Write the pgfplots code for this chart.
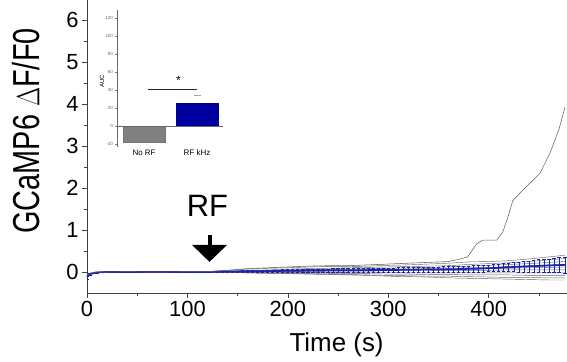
\documentclass[border=0pt]{standalone}
\usepackage{pgfplots}
\pgfplotsset{compat=1.18}
\usetikzlibrary{arrows.meta}
\usepackage{fontspec}
\setmainfont{Liberation Sans}
\definecolor{trc}{RGB}{100,100,100}
\definecolor{mblue}{RGB}{25,35,175}
\definecolor{barblue}{RGB}{0,0,160}
\definecolor{bargray}{RGB}{128,128,128}
\begin{document}
\begin{tikzpicture}
\begin{axis}[name=main, scale only axis, width=480bp, height=293bp, at={(0,0)}, anchor=south west,
 xmin=0, xmax=478, ymin=-0.5, ymax=6.48,
 axis lines=left, axis line style={-, black!75, line width=0.6bp},
 xtick={0,100,...,400}, ytick={0,...,6},
 minor xtick={50,150,...,450}, minor ytick={0.5,1.5,...,5.5},
 tick align=outside, major tick length=5bp, minor tick length=3bp,
 tick style={black!75, line width=0.6bp},
 ticklabel style={font=\fontsize{22}{24}\selectfont},
 /pgf/number format/assume math mode=true,
 xlabel={Time (s)},
 xlabel style={font=\fontsize{26}{28}\selectfont, at={(axis description cs:0.52,-0.177)}, anchor=center},
 ylabel={\scalebox{1}[1.3]{GCaMP6 $\Delta$F/F0}},
 ylabel style={font=\fontsize{29}{31}\selectfont, at={(axis description cs:-0.127,0.553)}, anchor=center},
]
% gray traces
\addplot[trc, line width=0.45bp] table {
0 -0.12
3 -0.05
8 -0.02
20 -0.01
40 0.0
60 -0.01
80 0.0
100 0.0
120 0.01
140 0.04
160 0.07
180 0.09
200 0.10
220 0.12
240 0.13
260 0.13
280 0.14
300 0.16
320 0.17
340 0.19
360 0.21
380 0.24
400 0.25
420 0.27
440 0.31
460 0.36
476 0.40
};
\addplot[trc, line width=0.45bp] table {
0 -0.15
3 -0.06
8 -0.02
20 0.0
40 0.0
60 0.0
80 -0.01
100 0.0
120 0.0
140 0.02
160 0.04
180 0.05
200 0.07
220 0.08
240 0.09
260 0.10
280 0.11
300 0.12
320 0.13
340 0.14
360 0.15
380 0.18
400 0.20
420 0.22
440 0.25
460 0.29
476 0.32
};
\addplot[trc, line width=0.45bp] table {
0 -0.10
3 -0.04
8 -0.01
20 0.0
40 0.01
60 0.0
80 0.0
100 0.01
120 0.0
140 0.01
160 0.03
180 0.04
200 0.05
220 0.06
240 0.07
260 0.07
280 0.08
300 0.09
320 0.10
340 0.11
360 0.12
380 0.14
400 0.16
420 0.18
440 0.20
460 0.23
476 0.25
};
\addplot[trc, line width=0.45bp] table {
0 -0.13
3 -0.05
8 -0.01
20 0.0
40 0.0
60 0.01
80 0.0
100 0.0
120 0.0
140 0.01
160 0.02
180 0.03
200 0.03
220 0.04
240 0.05
260 0.05
280 0.06
300 0.07
320 0.07
340 0.08
360 0.09
380 0.10
400 0.11
420 0.13
440 0.15
460 0.17
476 0.18
};
\addplot[trc, line width=0.45bp] table {
0 -0.09
3 -0.03
8 -0.01
20 0.0
40 0.0
60 0.0
80 0.01
100 0.0
120 0.0
140 0.0
160 0.01
180 0.02
200 0.02
220 0.03
240 0.03
260 0.04
280 0.04
300 0.05
320 0.05
340 0.06
360 0.06
380 0.07
400 0.08
420 0.09
440 0.10
460 0.11
476 0.12
};
\addplot[trc, line width=0.45bp] table {
0 -0.11
3 -0.04
8 -0.02
20 0.0
40 0.0
60 0.0
80 0.0
100 0.0
120 0.0
140 0.0
160 0.0
180 0.01
200 0.01
220 0.01
240 0.02
260 0.02
280 0.02
300 0.03
320 0.03
340 0.03
360 0.04
380 0.04
400 0.04
420 0.05
440 0.05
460 0.05
476 0.05
};
\addplot[trc, line width=0.45bp] table {
0 -0.14
3 -0.05
8 -0.02
20 -0.01
40 0.0
60 0.0
80 0.0
100 0.0
120 0.0
140 0.0
160 -0.01
180 0.0
200 -0.01
220 -0.01
240 -0.01
260 -0.01
280 -0.02
300 -0.01
320 -0.02
340 -0.02
360 -0.02
380 -0.02
400 -0.02
420 -0.02
440 -0.02
460 -0.02
476 -0.02
};
\addplot[trc, line width=0.45bp] table {
0 -0.12
3 -0.04
8 -0.01
20 0.0
40 0.0
60 0.0
80 0.0
100 0.0
120 0.0
140 -0.01
160 -0.01
180 -0.02
200 -0.02
220 -0.03
240 -0.03
260 -0.04
280 -0.04
300 -0.05
320 -0.05
340 -0.06
360 -0.06
380 -0.07
400 -0.07
420 -0.07
440 -0.08
460 -0.08
476 -0.08
};
\addplot[trc, line width=0.45bp] table {
0 -0.13
3 -0.05
8 -0.02
20 0.0
40 0.0
60 0.0
80 0.0
100 0.0
120 0.0
140 -0.01
160 -0.02
180 -0.03
200 -0.03
220 -0.04
240 -0.05
260 -0.06
280 -0.07
300 -0.08
320 -0.09
340 -0.10
360 -0.10
380 -0.11
400 -0.12
420 -0.13
440 -0.13
460 -0.14
476 -0.14
};
\addplot[trc, line width=0.45bp] table {
0 -0.10
3 -0.04
8 -0.01
20 0.0
40 0.0
60 0.0
80 0.0
100 0.0
120 0.0
140 -0.01
160 -0.02
180 -0.03
200 -0.04
220 -0.05
240 -0.06
260 -0.07
280 -0.08
300 -0.10
320 -0.11
340 -0.12
360 -0.14
380 -0.15
400 -0.16
420 -0.17
440 -0.18
460 -0.19
476 -0.19
};
% mean with error bars
\addplot[mblue, line width=1.7bp, error bars/.cd, y dir=both, y explicit,
  error bar style={mblue, line width=0.55bp}, error mark options={draw=mblue, line width=0.45bp, mark size=1.6bp, rotate=90}]
 table[x=t, y=m, y error=e] {
t m e
0 -0.12 0.05
3 -0.05 0.03
10 -0.01 0.01
20 0.0 0.01
30 0.0 0.01
40 0.0 0.01
50 0.0 0.01
60 0.0 0.01
70 0.0 0.01
80 0.0 0.01
90 0.0 0.01
100 0.0 0.01
110 0.0 0.01
120 0.0 0.01
130 0.005 0.012
135 0.008 0.014
140 0.01 0.015
145 0.01 0.017
150 0.012 0.018
155 0.013 0.019
160 0.015 0.02
165 0.017 0.021
170 0.02 0.022
175 0.02 0.023
180 0.02 0.025
185 0.022 0.026
190 0.025 0.027
195 0.027 0.028
200 0.03 0.03
205 0.03 0.031
210 0.03 0.032
215 0.032 0.033
220 0.035 0.034
225 0.035 0.035
230 0.035 0.036
235 0.037 0.037
240 0.04 0.038
245 0.04 0.039
250 0.04 0.04
255 0.04 0.041
260 0.04 0.042
265 0.042 0.043
270 0.045 0.044
275 0.045 0.045
280 0.045 0.046
285 0.048 0.047
290 0.05 0.048
295 0.05 0.049
300 0.05 0.05
305 0.05 0.052
310 0.05 0.053
315 0.052 0.055
320 0.055 0.056
325 0.055 0.058
330 0.055 0.059
335 0.058 0.06
340 0.06 0.062
345 0.06 0.063
350 0.06 0.065
355 0.062 0.067
360 0.065 0.068
365 0.067 0.07
370 0.07 0.071
375 0.072 0.073
380 0.075 0.074
385 0.078 0.076
390 0.08 0.077
395 0.085 0.079
400 0.09 0.08
405 0.095 0.085
410 0.10 0.09
415 0.11 0.095
420 0.115 0.10
425 0.12 0.11
430 0.125 0.12
435 0.13 0.125
440 0.135 0.13
445 0.14 0.14
450 0.145 0.15
455 0.15 0.155
460 0.155 0.16
465 0.16 0.17
470 0.165 0.18
476 0.17 0.19
};
% outlier trace
\addplot[trc, line width=0.55bp] table {
0 -0.08
3 -0.03
8 0.0
20 0.0
40 0.01
60 0.0
80 0.0
100 0.01
120 0.01
140 0.04
160 0.08
180 0.10
200 0.12
220 0.14
240 0.15
260 0.15
280 0.17
300 0.19
320 0.21
340 0.23
360 0.25
370 0.30
379 0.36
388 0.67
394 0.76
408 0.76
414 0.95
419 1.30
424 1.70
434 1.95
451 2.35
461 2.83
470 3.40
476 3.93
};
\node[font=\fontsize{31}{33}\selectfont] at (axis cs:120,1.58) {RF};
\draw[-{Triangle[width=34bp,length=17bp]}, line width=4bp] (axis cs:122,0.88) -- (axis cs:122,0.24);
\end{axis}
% inset
\begin{axis}[at={(30bp,146bp)}, anchor=south west, scale only axis, width=106bp, height=137bp,
 xmin=-0.51, xmax=1.49, ymin=-23.3, ymax=128.9,
 axis x line=bottom, axis y line=left,
 x axis line style={draw=none}, y axis line style={-, black!60, line width=0.4bp},
 xtick={0,1}, xticklabels={No RF, RF kHz}, xtick style={draw=none},
 xticklabel style={font=\fontsize{8}{9}\selectfont, yshift=2bp},
 ytick={-20,0,...,120}, tick align=outside, major tick length=1.5bp,
 ytick style={black!50, line width=0.3bp},
 yticklabel style={font=\fontsize{4.5}{5}\selectfont, text=black!60, xshift=1bp},
 /pgf/number format/assume math mode=true,
 ylabel={AUC}, ylabel style={font=\fontsize{6}{7}\selectfont, at={(axis description cs:-0.14,0.48)}, anchor=center},
 clip=false,
]
\addplot[ybar, bar shift=0pt, bar width=42bp, fill=bargray, draw=black!55, line width=0.4bp] coordinates {(0,-17.5)};
\addplot[ybar, bar shift=0pt, bar width=42bp, fill=barblue, draw=barblue!80!black, line width=0.4bp,
 error bars/.cd, y dir=plus, y explicit, error bar style={draw=white, line width=0.5bp},
 error mark options={draw=black!35, line width=0.5bp, mark size=3.5bp, rotate=90}] coordinates {(1,25.5) +- (0,8.5)};
\draw[black!60, line width=0.5bp] (axis cs:-0.51,0) -- (axis cs:1.49,0);
\draw[black!85, line width=0.8bp] (axis cs:0.075,41) -- (axis cs:1.0,41);
\node[font=\fontsize{12}{13}\selectfont] at (axis cs:0.65,51) {*};
\end{axis}
\pgfresetboundingbox
\path (-87bp,-69bp) rectangle (480bp,293bp);
\end{tikzpicture}
\end{document}
